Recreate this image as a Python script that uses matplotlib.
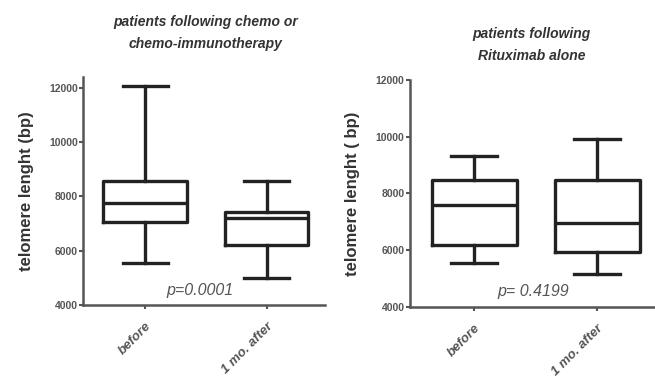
import matplotlib.pyplot as plt

# box statistics (bp)
groups = ["before", "1 mo. after"]

chemo_whislo = [5540, 4990]
chemo_q1 = [7070, 6210]
chemo_med = [7750, 7200]
chemo_q3 = [8560, 7440]
chemo_whishi = [12050, 8560]

ritux_whislo = [5550, 5170]
ritux_q1 = [6190, 5950]
ritux_med = [7600, 6970]
ritux_q3 = [8480, 8480]
ritux_whishi = [9320, 9920]

yticks = [4000, 6000, 8000, 10000, 12000]

plt.rcParams['font.family'] = ['Liberation Sans', 'DejaVu Sans']

fig = plt.figure(figsize=(6.55, 3.88), dpi=100)
ax1 = fig.add_axes([0.127, 0.214, 0.369, 0.588])
ax2 = fig.add_axes([0.626, 0.209, 0.374, 0.585])

line_c = '#222222'
axis_c = '#555555'


def make_stats(lo, q1, med, q3, hi):
    stats = []
    for i in range(len(groups)):
        stats.append(dict(whislo=lo[i], q1=q1[i], med=med[i], q3=q3[i],
                          whishi=hi[i], fliers=[]))
    return stats


def draw(ax, stats, ylim, xlim, ylabel, pval, ppos):
    lp = dict(color=line_c, linewidth=2.4)
    ax.bxp(stats, positions=[0, 1], widths=0.69, showfliers=False,
           boxprops=lp, medianprops=lp, whiskerprops=lp, capprops=lp,
           capwidths=0.37)
    ax.set_ylim(*ylim)
    ax.set_xlim(*xlim)
    ax.set_yticks(yticks)
    ax.set_yticklabels([str(t) for t in yticks], fontsize=7.5,
                       fontweight='bold', color='#444444')
    ax.set_xticks([0, 1])
    ax.set_xticklabels(groups, rotation=45, ha='right', va='top',
                       rotation_mode='anchor', fontsize=9.5,
                       fontweight='bold', style='italic', color='#333333')
    for s in ['top', 'right']:
        ax.spines[s].set_visible(False)
    for s in ['left', 'bottom']:
        ax.spines[s].set_color(axis_c)
        ax.spines[s].set_linewidth(1.8)
    ax.tick_params(axis='y', colors=axis_c, width=1.5, length=3, pad=1)
    ax.tick_params(axis='x', colors=axis_c, width=1.5, length=3, pad=8)
    ax.set_ylabel(ylabel, fontsize=12, fontweight='bold', color='#333333',
                  labelpad=11)
    ax.text(ppos[0], ppos[1], pval, fontsize=11.5, style='italic',
            color='#555555', ha='center', va='center')


draw(ax1, make_stats(chemo_whislo, chemo_q1, chemo_med, chemo_q3, chemo_whishi),
     (4000, 12400), (-0.51, 1.48), "telomere lenght (bp)", "p=0.0001",
     (0.45, 4520))
draw(ax2, make_stats(ritux_whislo, ritux_q1, ritux_med, ritux_q3, ritux_whishi),
     (4000, 12000), (-0.52, 1.47), "telomere lenght ( bp)", "p= 0.4199",
     (0.48, 4530))

fig.text(0.314, 0.915, "patients following chemo or\nchemo-immunotherapy",
         ha='center', va='center', fontsize=10, fontweight='bold',
         style='italic', color='#333333', linespacing=1.8)
fig.text(0.812, 0.884, "patients following\nRituximab alone",
         ha='center', va='center', fontsize=10, fontweight='bold',
         style='italic', color='#333333', linespacing=1.8)

fig.savefig("out.png", dpi=100)
